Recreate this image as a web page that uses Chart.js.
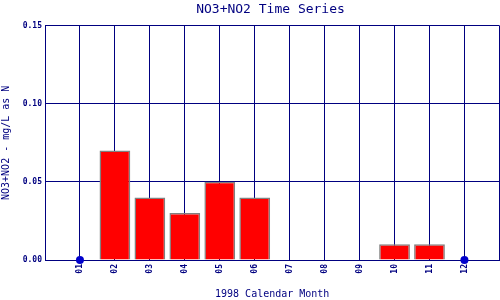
<!DOCTYPE html>
<html>
<head>
<meta charset="utf-8">
<script src="https://cdn.jsdelivr.net/npm/chart.js@4"></script>
<style>
  html, body { margin: 0; padding: 0; background: #fff; }
  #wrap { width: 500px; height: 300px; }
</style>
</head>
<body>
<div id="wrap"><canvas id="no3Chart" width="500" height="300"></canvas></div>
<script>
// 데이터
const monthLabels = ['01', '02', '03', '04', '05', '06', '07', '08', '09', '10', '11', '12'];
const no3Values = [null, 0.07, 0.04, 0.03, 0.05, 0.04, 0, 0, 0, 0.01, 0.01, null];
const markerValues = [0, null, null, null, null, null, null, null, null, null, null, 0];
const yTicks = [0, 0.05, 0.10, 0.15];

const navy = '#000080';
const mono = "'DejaVu Sans Mono', 'Liberation Mono', monospace";

// 양쪽 끝에 빈 칸을 두어 01과 12가 한 칸씩 안쪽에 오도록
const axisLabels = [''].concat(monthLabels, ['']);
const pad = arr => [null].concat(arr, [null]);

const chart = new Chart(document.getElementById('no3Chart'), {
    type: 'bar',
    data: {
        labels: axisLabels,
        datasets: [{
            type: 'line',
            data: pad(markerValues),
            showLine: false,
            pointRadius: 4,
            pointBackgroundColor: '#0000cc',
            pointBorderColor: '#0000cc',
            pointBorderWidth: 0,
            clip: false,
            order: 0
        }, {
            data: pad(no3Values),
            backgroundColor: '#ff0000',
            borderColor: '#808080',
            borderWidth: 1.5,
            borderSkipped: 'start',
            categoryPercentage: 1,
            barPercentage: 0.88,
            order: 1
        }]
    },
    options: {
        responsive: false,
        animation: false,
        layout: { padding: { left: 0, right: 0, top: 0, bottom: 0 } },
        plugins: {
            legend: { display: false },
            tooltip: { enabled: false },
            title: {
                display: true,
                fullSize: false,
                text: 'NO3+NO2 Time Series',
                color: navy,
                font: { family: mono, size: 13, weight: 'normal' },
                padding: { top: 2, bottom: 8 }
            }
        },
        scales: {
            x: {
                offset: false,
                grid: { color: navy, lineWidth: 1, offset: false, drawTicks: false },
                border: { color: navy, width: 1 },
                ticks: {
                    color: navy,
                    autoSkip: false,
                    maxRotation: 90,
                    minRotation: 90,
                    padding: 4,
                    font: { family: mono, size: 8, weight: 'bold' }
                },
                title: {
                    display: true,
                    text: '1998 Calendar Month',
                    color: navy,
                    font: { family: mono, size: 10 },
                    padding: { top: 0, bottom: 0 }
                },
                afterFit: s => {
                    s.height = 40;
                    s.paddingLeft = 0;
                    s.paddingRight = 0;
                }
            },
            y: {
                min: 0,
                max: 0.15,
                afterBuildTicks: s => { s.ticks = yTicks.map(v => ({ value: v })); },
                grid: { color: navy, lineWidth: 1, drawTicks: false },
                border: { color: navy, width: 1 },
                ticks: {
                    color: navy,
                    padding: 3,
                    font: { family: mono, size: 8, weight: 'bold' },
                    callback: v => v.toFixed(2)
                },
                title: {
                    display: true,
                    text: 'NO3+NO2 - mg/L as N',
                    color: navy,
                    font: { family: mono, size: 10 },
                    padding: { top: 0, bottom: 0 }
                },
                afterFit: s => {
                    s.width = 45;
                    s.paddingTop = 0;
                    s.paddingBottom = 0;
                }
            }
        }
    },
    plugins: [{
        // 플롯 영역을 캔버스 오른쪽 끝까지 늘려 눈금 간격을 약 35px로 맞춤
        id: 'fixArea',
        afterLayout: c => {
            const right = 499.4;
            if (Math.abs(c.chartArea.right - right) > 0.3) {
                c.chartArea.right = right;
                c.chartArea.width = right - c.chartArea.left;
                const x = c.scales.x;
                x.right = right;
                x.width = right - x.left;
                x._length = x.width;
                x.configure();
            }
        }
    }]
});
</script>
</body>
</html>
